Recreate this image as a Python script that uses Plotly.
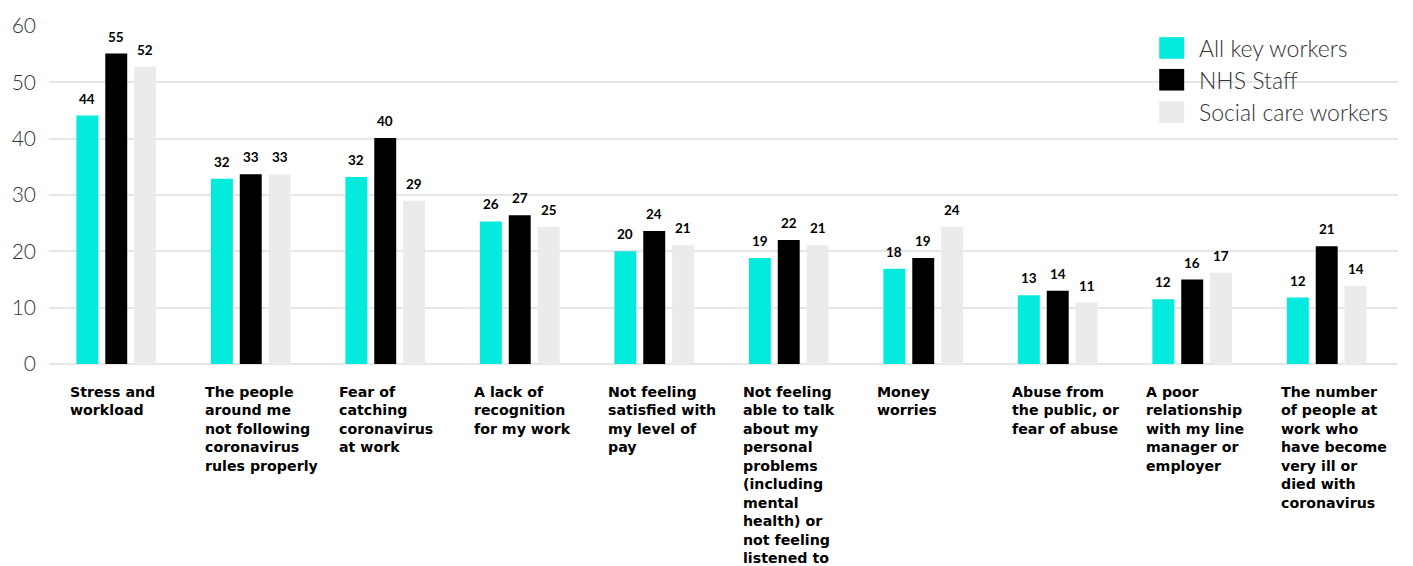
import plotly.graph_objects as go

categories = [
    "Stress and<br>workload",
    "The people<br>around me<br>not following<br>coronavirus<br>rules properly",
    "Fear of<br>catching<br>coronavirus<br>at work",
    "A lack of<br>recognition<br>for my work",
    "Not feeling<br>satisfied with<br>my level of<br>pay",
    "Not feeling<br>able to talk<br>about my<br>personal<br>problems<br>(including<br>mental<br>health) or<br>not feeling<br>listened to",
    "Money<br>worries",
    "Abuse from<br>the public, or<br>fear of abuse",
    "A poor<br>relationship<br>with my line<br>manager or<br>employer",
    "The number<br>of people at<br>work who<br>have become<br>very ill or<br>died with<br>coronavirus",
]

series_names = ["All key workers", "NHS Staff", "Social care workers"]

all_key_workers = [44.1, 32.9, 33.2, 25.3, 20.0, 18.8, 16.9, 12.2, 11.5, 11.8]
nhs_staff = [55.1, 33.7, 40.1, 26.4, 23.6, 22.0, 18.8, 13.0, 15.0, 20.9]
social_care = [52.7, 33.7, 29.0, 24.3, 21.1, 21.1, 24.3, 10.9, 16.2, 13.9]

all_key_labels = [44, 32, 32, 26, 20, 19, 18, 13, 12, 12]
nhs_labels = [55, 33, 40, 27, 24, 22, 19, 14, 16, 21]
social_labels = [52, 33, 29, 25, 21, 21, 24, 11, 17, 14]

y_ticks = [0, 10, 20, 30, 40, 50, 60]

colors = ["#04EADC", "#000000", "#EBEBEB"]
values = [all_key_workers, nhs_staff, social_care]
labels = [all_key_labels, nhs_labels, social_labels]

BARGAP = 0.356
BARGROUPGAP = 0.24
slot = (1 - BARGAP) / 3

fig = go.Figure()
xs = list(range(len(categories)))
for name, vals, col in zip(series_names, values, colors):
    fig.add_trace(go.Bar(x=xs, y=vals, name=name, marker=dict(color=col, line=dict(width=0)),
                         showlegend=False))

FONT = "Lato, 'Open Sans', sans-serif"
CAT_FONT = "'DejaVu Sans', 'Open Sans', sans-serif"
annotations = []
for j, labs in enumerate(labels):
    for i, (v, lab) in enumerate(zip(values[j], labs)):
        annotations.append(dict(x=i + (j - 1) * slot, y=v, xref="x", yref="y", text=str(lab),
                                showarrow=False, yanchor="bottom", yshift=7,
                                font=dict(family=FONT, size=13.5, color="#000000", weight=700)))

for i, cat in enumerate(categories):
    annotations.append(dict(x=i - 0.357, y=0, xref="x", yref="paper", text=cat,
                            showarrow=False, xanchor="left", yanchor="top", align="left", yshift=-18,
                            font=dict(family=CAT_FONT, size=14.2, color="#000000", weight=700)))

# legend (manual, large swatches)
leg_y = [0.935, 0.841, 0.745]
shapes = [dict(type="rect", xref="paper", yref="paper", x0=0.81, x1=1.0, y0=0.60, y1=1.02,
               fillcolor="white", line=dict(width=0), layer="between")]
for name, col, yc in zip(series_names, colors, leg_y):
    shapes.append(dict(type="rect", xref="paper", yref="paper", x0=0.823, x1=0.8415,
                       y0=yc - 0.032, y1=yc + 0.032, fillcolor=col, line=dict(width=0)))
    annotations.append(dict(x=0.851, y=yc, xref="paper", yref="paper", text=name, showarrow=False,
                            xanchor="left", yanchor="middle",
                            font=dict(family=FONT, size=23, color="#333333", weight=300)))

fig.update_layout(
    width=1413, height=566,
    margin=dict(l=47, r=15, t=22, b=202),
    plot_bgcolor="white", paper_bgcolor="white",
    barmode="group", bargap=BARGAP, bargroupgap=BARGROUPGAP,
    showlegend=False,
    annotations=annotations,
    shapes=shapes,
    xaxis=dict(range=[-0.5, len(categories) - 0.47], showticklabels=False, showgrid=False,
               zeroline=False, showline=False, ticks=""),
    yaxis=dict(range=[0, 60], tickvals=y_ticks, showgrid=True, gridcolor="#E6E6E6", gridwidth=2,
               zeroline=True, zerolinecolor="#E6E6E6", zerolinewidth=2, showline=False, ticks="",
               ticklabelstandoff=12,
               tickfont=dict(family=FONT, size=21, color="#333333", weight=300)),
)

fig.write_html("out.html")
